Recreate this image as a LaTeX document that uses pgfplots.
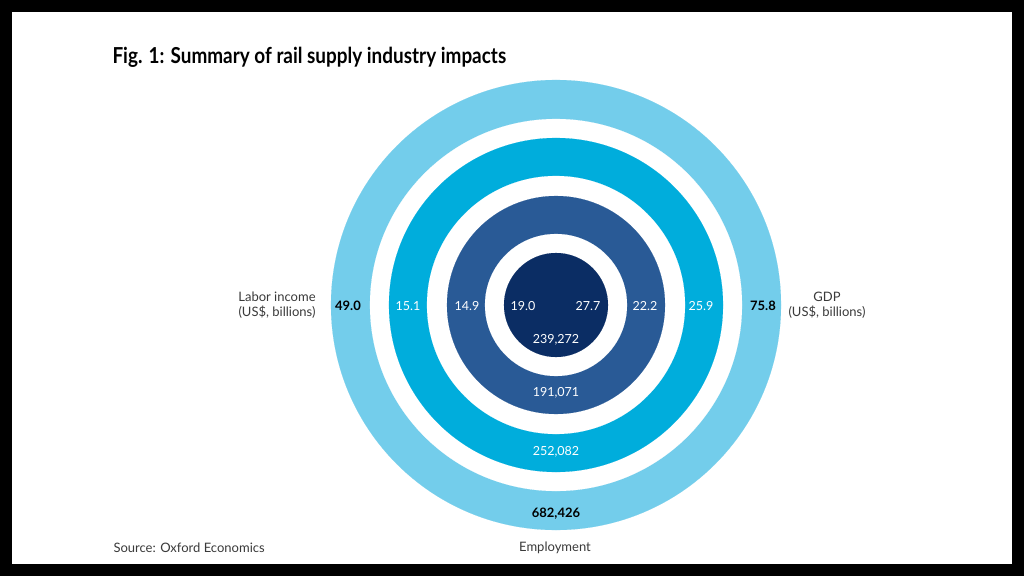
\documentclass[border=0pt]{standalone}
\usepackage{pgfplots}
\pgfplotsset{compat=1.18}
\usepackage{fontspec}
\setmainfont{Lato}
\newfontfamily\titlefont[FakeStretch=0.86]{Lato}

\definecolor{totalc}{HTML}{73CDEB}
\definecolor{inducedc}{HTML}{00ADDC}
\definecolor{indirectc}{HTML}{295A96}
\definecolor{directc}{HTML}{0B2D64}
\definecolor{txt}{HTML}{3A3A3A}

\begin{document}
\begin{tikzpicture}
% frame of the slide
\fill[black] (0,0) rectangle (1024bp,576bp);
\fill[white] (12bp,12bp) rectangle (1012bp,564bp);
\begin{axis}[
    width=1024bp, height=576bp, scale only axis,
    xmin=0, xmax=1024, ymin=0, ymax=576,
    y dir=reverse,
    hide axis, clip=false,
    ring/.style={only marks, mark=*, color=#1, mark options={draw=#1, fill=#1, line width=0.1pt}},
]
% rings, outer to inner (radius in px)
\addplot[ring=totalc, mark size=225bp] coordinates {(556,305)};
\addplot[ring=white, mark size=186bp] coordinates {(556,305)};
\addplot[ring=inducedc, mark size=167bp] coordinates {(556,305)};
\addplot[ring=white, mark size=129bp] coordinates {(556,305)};
\addplot[ring=indirectc, mark size=109bp] coordinates {(556,305)};
\addplot[ring=white, mark size=71bp] coordinates {(556,305)};
\addplot[ring=directc, mark size=52bp] coordinates {(556,305)};

% values on the rings
\addplot[draw=none, mark=none, nodes near coords, point meta=explicit symbolic,
    nodes near coords style={anchor=center, text=white, font=\fontsize{12.5bp}{14bp}\selectfont}]
    table[meta=label] {
x y label
408 306 15.1
467 306 14.9
523 306 19.0
588 306 27.7
645 306 22.2
701 306 25.9
556 340 239,272
556 393 191,071
556 452 252,082
};
\addplot[draw=none, mark=none, nodes near coords, point meta=explicit symbolic,
    nodes near coords style={anchor=center, text=black, font=\fontsize{13bp}{15bp}\selectfont\bfseries}]
    table[meta=label] {
x y label
348 306 49.0
763 306 75.8
556 514 682,426
};

% ring names
\node[font=\fontsize{12.5bp}{14bp}\selectfont\bfseries, text=black] at (axis cs:556,99) {Total};
\node[font=\fontsize{12.5bp}{14bp}\selectfont, text=white] at (axis cs:556,155) {Induced};
\node[font=\fontsize{12.5bp}{14bp}\selectfont, text=white] at (axis cs:556,216) {Indirect};
\node[font=\fontsize{12.5bp}{14bp}\selectfont, text=white] at (axis cs:556,272) {Direct};

% side and bottom labels
\node[font=\fontsize{13bp}{15bp}\selectfont, text=txt, align=center] at (axis cs:277,305) {Labor income\\(US\$, billions)};
\node[font=\fontsize{13bp}{15bp}\selectfont, text=txt, align=center] at (axis cs:827,305) {GDP\\(US\$, billions)};
\node[font=\fontsize{13bp}{15bp}\selectfont, text=txt] at (axis cs:555,548) {Employment};
\node[font=\fontsize{13bp}{15bp}\selectfont, text=txt, anchor=west] at (axis cs:110,548) {Source: Oxford Economics};

% title
\node[font=\titlefont\fontsize{22bp}{25bp}\selectfont\bfseries, anchor=west] at (axis cs:109,57) {Fig. 1: Summary of rail supply industry impacts};
\end{axis}
\end{tikzpicture}
\end{document}
